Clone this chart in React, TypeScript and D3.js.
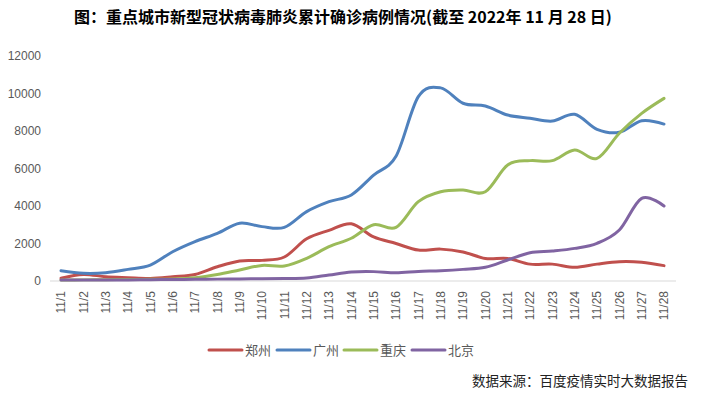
import React from "react";
import * as d3 from "d3";

const dates = ["11/1","11/2","11/3","11/4","11/5","11/6","11/7","11/8","11/9","11/10","11/11","11/12","11/13","11/14","11/15","11/16","11/17","11/18","11/19","11/20","11/21","11/22","11/23","11/24","11/25","11/26","11/27","11/28"];

const zhengzhou = [150, 350, 230, 180, 140, 230, 350, 760, 1070, 1100, 1280, 2250, 2700, 3050, 2350, 2000, 1650, 1700, 1550, 1200, 1200, 900, 900, 730, 900, 1030, 1000, 820];
const guangzhou = [550, 410, 440, 620, 850, 1560, 2100, 2540, 3080, 2900, 2860, 3700, 4230, 4590, 5650, 6650, 9830, 10300, 9480, 9330, 8850, 8680, 8530, 8890, 8090, 7930, 8550, 8370];
const chongqing = [50, 60, 70, 80, 90, 110, 180, 350, 590, 830, 800, 1210, 1830, 2280, 3000, 2860, 4230, 4760, 4850, 4760, 6190, 6420, 6420, 6990, 6540, 7880, 8940, 9740];
const beijing = [60, 60, 60, 60, 70, 80, 90, 100, 110, 120, 130, 160, 320, 480, 500, 440, 510, 550, 620, 730, 1120, 1510, 1600, 1740, 2010, 2720, 4410, 4000];

const seriesNames = ["郑州", "广州", "重庆", "北京"];
const seriesColors = ["#C0504D", "#4F81BD", "#9BBB59", "#8064A2"];
const seriesValues = [zhengzhou, guangzhou, chongqing, beijing];
const yTicks = [0, 2000, 4000, 6000, 8000, 10000, 12000];

const title = "图：重点城市新型冠状病毒肺炎累计确诊病例情况(截至 2022年 11 月 28 日)";
const source = "数据来源：百度疫情实时大数据报告";

export default function App() {
  const W = 705, H = 400;
  const x = d3.scalePoint<string>().domain(dates).range([61, 664]);
  const y = d3.scaleLinear().domain([0, 12000]).range([281, 56]);
  const line = d3.line<number>()
    .x((_, i) => x(dates[i]) as number)
    .y((d) => y(d))
    .curve(d3.curveCardinal.tension(0));

  const legendX = [209, 277, 344, 412];

  return (
    <svg width={W} height={H} style={{ position: "absolute", left: 0, top: 0, background: "#fff" }}>
      <rect width={W} height={H} fill="#fff" />
      <text x={343} y={23} textAnchor="middle" fontFamily="'Noto Sans CJK SC'" fontWeight="bold" fontSize={16} fill="#000">{title}</text>
      {yTicks.map((t) => (
        <text key={t} x={41} y={y(t)} dy="0.35em" textAnchor="end" fontFamily="'Liberation Sans', Arial" fontSize={12} fill="#595959">{t}</text>
      ))}
      <line x1={50} x2={676} y1={y(0)} y2={y(0)} stroke="#D9D9D9" strokeWidth={1} />
      {dates.map((d) => (
        <text key={d} transform={`translate(${x(d)},${291}) rotate(-90)`} dy="0.35em" textAnchor="end" fontFamily="'Liberation Sans', Arial" fontSize={12} fill="#595959">{d}</text>
      ))}
      {seriesValues.map((vals, i) => (
        <path key={i} d={line(vals) || ""} fill="none" stroke={seriesColors[i]} strokeWidth={3} strokeLinejoin="round" strokeLinecap="round" />
      ))}
      {seriesNames.map((n, i) => (
        <g key={n}>
          <line x1={legendX[i]} x2={legendX[i] + 33} y1={350} y2={350} stroke={seriesColors[i]} strokeWidth={3} strokeLinecap="round" />
          <text x={legendX[i] + 36} y={350} dy="0.36em" fontFamily="'Noto Sans CJK SC'" fontSize={13} fill="#595959">{n}</text>
        </g>
      ))}
      <text x={472} y={381} dy="0.36em" fontFamily="'Noto Sans CJK SC'" fontSize={13.5} fill="#222">{source}</text>
    </svg>
  );
}
